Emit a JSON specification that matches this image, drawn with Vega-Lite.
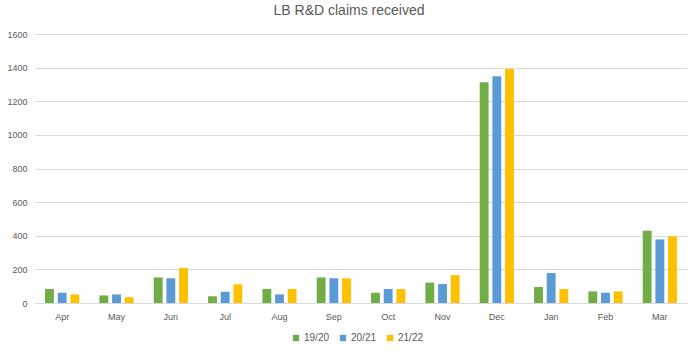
{
  "$schema": "https://vega.github.io/schema/vega-lite/v6.json",
  "autosize": {"type": "none"},
  "width": 652,
  "height": 269,
  "padding": {"left": 35, "top": 34, "right": 11, "bottom": 49},
  "background": "white",
  "title": {
    "text": "LB R&D claims received",
    "fontSize": 14,
    "font": "Liberation Sans",
    "fontWeight": "normal",
    "color": "#595959",
    "anchor": "middle",
    "dx": -12,
    "offset": 12
  },
  "data": {
    "values": [
      {"month": "Apr", "year": "19/20", "claims": 83},
      {"month": "Apr", "year": "20/21", "claims": 61},
      {"month": "Apr", "year": "21/22", "claims": 51},
      {"month": "May", "year": "19/20", "claims": 45},
      {"month": "May", "year": "20/21", "claims": 51},
      {"month": "May", "year": "21/22", "claims": 34},
      {"month": "Jun", "year": "19/20", "claims": 152},
      {"month": "Jun", "year": "20/21", "claims": 147},
      {"month": "Jun", "year": "21/22", "claims": 208},
      {"month": "Jul", "year": "19/20", "claims": 40},
      {"month": "Jul", "year": "20/21", "claims": 67},
      {"month": "Jul", "year": "21/22", "claims": 111},
      {"month": "Aug", "year": "19/20", "claims": 83},
      {"month": "Aug", "year": "20/21", "claims": 51},
      {"month": "Aug", "year": "21/22", "claims": 83},
      {"month": "Sep", "year": "19/20", "claims": 152},
      {"month": "Sep", "year": "20/21", "claims": 147},
      {"month": "Sep", "year": "21/22", "claims": 147},
      {"month": "Oct", "year": "19/20", "claims": 61},
      {"month": "Oct", "year": "20/21", "claims": 83},
      {"month": "Oct", "year": "21/22", "claims": 83},
      {"month": "Nov", "year": "19/20", "claims": 121},
      {"month": "Nov", "year": "20/21", "claims": 113},
      {"month": "Nov", "year": "21/22", "claims": 166},
      {"month": "Dec", "year": "19/20", "claims": 1313},
      {"month": "Dec", "year": "20/21", "claims": 1349},
      {"month": "Dec", "year": "21/22", "claims": 1392},
      {"month": "Jan", "year": "19/20", "claims": 95},
      {"month": "Jan", "year": "20/21", "claims": 178},
      {"month": "Jan", "year": "21/22", "claims": 83},
      {"month": "Feb", "year": "19/20", "claims": 69},
      {"month": "Feb", "year": "20/21", "claims": 61},
      {"month": "Feb", "year": "21/22", "claims": 69},
      {"month": "Mar", "year": "19/20", "claims": 430},
      {"month": "Mar", "year": "20/21", "claims": 378},
      {"month": "Mar", "year": "21/22", "claims": 396}
    ]
  },
  "mark": {"type": "bar"},
  "encoding": {
    "x": {
      "field": "month",
      "type": "nominal",
      "sort": ["Apr","May","Jun","Jul","Aug","Sep","Oct","Nov","Dec","Jan","Feb","Mar"],
      "scale": {"paddingInner": 0.37, "paddingOuter": 0.185},
      "axis": {
        "title": null,
        "labelAngle": 0,
        "ticks": false,
        "domain": true,
        "domainColor": "#D9D9D9",
        "labelColor": "#595959",
        "labelFont": "Liberation Sans",
        "labelFontSize": 9,
        "labelPadding": 9
      }
    },
    "xOffset": {
      "field": "year",
      "type": "nominal",
      "scale": {"paddingInner": 0.3, "paddingOuter": 0}
    },
    "y": {
      "field": "claims",
      "type": "quantitative",
      "scale": {"domain": [0, 1600]},
      "axis": {
        "title": null,
        "values": [0, 200, 400, 600, 800, 1000, 1200, 1400, 1600],
        "format": "d",
        "ticks": false,
        "domain": false,
        "grid": true,
        "gridColor": "#D9D9D9",
        "labelColor": "#595959",
        "labelFont": "Liberation Sans",
        "labelFontSize": 9,
        "labelPadding": 8
      }
    },
    "color": {
      "field": "year",
      "type": "nominal",
      "scale": {"domain": ["19/20", "20/21", "21/22"], "range": ["#70AD47", "#5B9BD5", "#FFC000"]},
      "legend": {
        "title": null,
        "orient": "none",
        "direction": "horizontal",
        "legendX": 256,
        "legendY": 299,
        "symbolType": "square",
        "symbolSize": 40,
        "symbolStrokeWidth": 0,
        "labelFont": "Liberation Sans",
        "labelFontSize": 10,
        "labelColor": "#595959",
        "columnPadding": 8,
        "labelOffset": 3
      }
    }
  },
  "config": {"view": {"stroke": null}}
}
